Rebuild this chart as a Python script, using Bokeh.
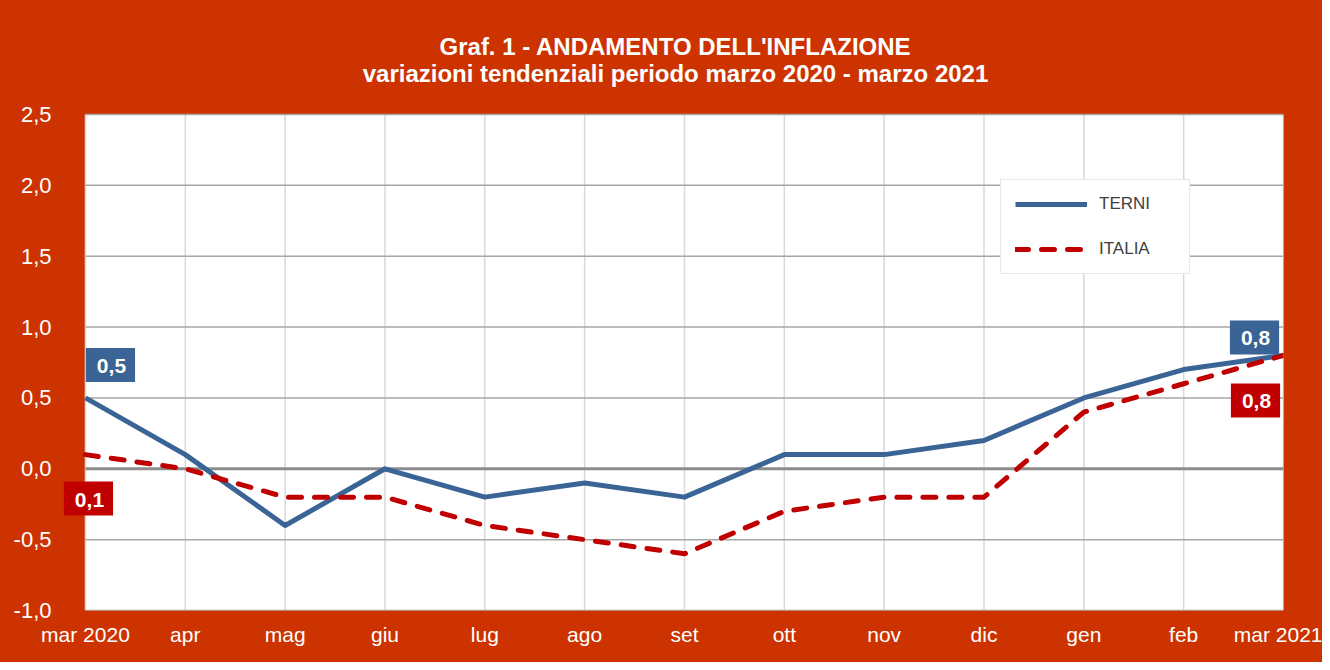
from bokeh.plotting import figure
from bokeh.models import (Range1d, FixedTicker, Label, Legend, LegendItem, BoxAnnotation)
from bokeh.embed import file_html
from bokeh.resources import INLINE

months = ["mar 2020", "apr", "mag", "giu", "lug", "ago", "set",
          "ott", "nov", "dic", "gen", "feb", "mar 2021"]
terni = [0.5, 0.1, -0.4, 0.0, -0.2, -0.1, -0.2, 0.1, 0.1, 0.2, 0.5, 0.7, 0.8]
italia = [0.1, 0.0, -0.2, -0.2, -0.4, -0.5, -0.6, -0.3, -0.2, -0.2, 0.4, 0.6, 0.8]
y_ticks = [-1.0, -0.5, 0.0, 0.5, 1.0, 1.5, 2.0, 2.5]
y_tick_labels = ["-1,0", "-0,5", "0,0", "0,5", "1,0", "1,5", "2,0", "2,5"]
title_lines = ["Graf. 1 - ANDAMENTO DELL'INFLAZIONE",
               "variazioni tendenziali periodo marzo 2020 - marzo 2021"]

BG = "#CC3300"
BLUE = "#3B6496"
RED = "#C00000"
FONT = "Liberation Sans"

xs = list(range(len(months)))
last = len(months) - 1
y_lo, y_hi = y_ticks[0], y_ticks[-1]

# frame extends into the red header so that the title and labels are never clipped
p = figure(width=1322, height=662, output_backend="svg", toolbar_location=None,
           x_range=Range1d(-0.25, last), y_range=Range1d(y_lo, y_hi + 0.6633),
           min_border_left=60, min_border_right=39, min_border_top=20, min_border_bottom=52)
# one uniform red behind the whole canvas (no frame/border seam)
p.border_fill_color = None
p.background_fill_color = None
p.styles = {"background-color": BG}
p.outline_line_color = None

# white plotting area (data extent)
p.add_layout(BoxAnnotation(left=xs[0], right=xs[-1], bottom=y_lo, top=y_hi,
                           fill_color="white", fill_alpha=1.0, line_color=None, level="image"))

# title lines, centred above the white area
for txt, dy in zip(title_lines, (0.48, 0.289)):
    p.add_layout(Label(x=5.91, y=y_hi + dy, text=txt, text_align="center",
                       text_baseline="middle", text_color="white", text_font=FONT,
                       text_font_style="bold", text_font_size="24px"))

# axes
p.xaxis.ticker = FixedTicker(ticks=xs)
p.xaxis.major_label_overrides = {i: m for i, m in zip(xs, months)}
p.yaxis.ticker = FixedTicker(ticks=y_ticks)
p.yaxis.major_label_overrides = {t: l for t, l in zip(y_ticks, y_tick_labels)}
for ax in (p.xaxis, p.yaxis):
    ax.axis_line_color = None
    ax.major_tick_line_color = None
    ax.minor_tick_line_color = None
    ax.major_label_text_color = "white"
    ax.major_label_text_font = FONT
p.yaxis.major_label_text_font_size = "22px"
p.xaxis.major_label_text_font_size = "21px"
p.yaxis.major_label_standoff = 3
p.xaxis.major_label_standoff = 6

p.xgrid.grid_line_color = None
p.ygrid.grid_line_color = None

# vertical grid lines within the white area
p.segment(x0=xs, x1=xs, y0=[y_lo] * len(xs), y1=[y_hi] * len(xs),
          line_color="#D9D9D9", line_width=1.5)
# horizontal grid lines; zero line darker
h_colors = ["#8C8C8C" if t == 0 else "#A6A6A6" for t in y_ticks]
h_widths = [3 if t == 0 else 1.5 for t in y_ticks]
p.segment(x0=[xs[0]] * len(y_ticks), x1=[xs[-1]] * len(y_ticks), y0=y_ticks, y1=y_ticks,
          line_color=h_colors, line_width=h_widths)

r_terni = p.line(xs, terni, line_color=BLUE, line_width=5, line_join="round")
r_italia = p.line(xs, italia, line_color=RED, line_width=5, line_dash="13 13",
                  line_cap="round", line_join="round")

legend = Legend(items=[LegendItem(label="TERNI", renderers=[r_terni]),
                       LegendItem(label="ITALIA", renderers=[r_italia])],
                location=(940, 336), padding=14, spacing=25, glyph_width=72,
                glyph_height=20, label_standoff=12, label_width=76, margin=0,
                label_text_font=FONT, label_text_font_size="17px",
                label_text_color="#404040", border_line_color="#D0D0D0",
                background_fill_color="white", background_fill_alpha=1.0)
p.add_layout(legend)

# data labels
def data_label(i, series, color, dx, dy):
    v = series[i]
    txt = f"{v:.1f}".replace(".", ",")
    common = dict(x=xs[i], y=v, text=txt, text_align="center", text_baseline="middle",
                  text_font=FONT, text_font_style="bold", text_font_size="21px",
                  padding=(11, 9, 11, 9))
    p.add_layout(Label(x_offset=dx + 4, y_offset=dy - 4, text_color="#555555",
                       background_fill_color="#555555", background_fill_alpha=0.35,
                       text_alpha=0.0, **common))
    p.add_layout(Label(x_offset=dx, y_offset=dy, text_color="white",
                       background_fill_color=color, **common))

data_label(0, terni, BLUE, 25, 33)
data_label(0, italia, RED, 3, -44)
data_label(last, terni, BLUE, -29, 18)
data_label(last, italia, RED, -28, -45)

open("out.html", "w").write(file_html(p, INLINE))
